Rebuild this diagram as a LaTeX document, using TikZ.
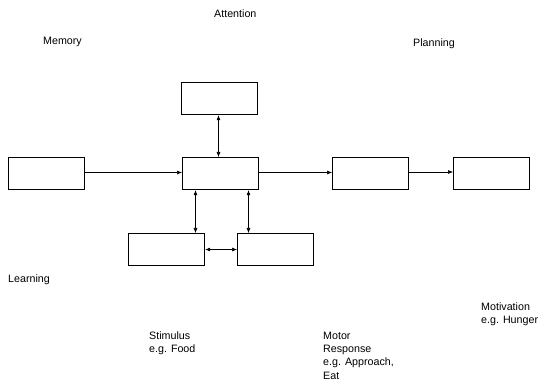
\documentclass[tikz,border=0pt]{standalone}
\usepackage{fontspec}
\setmainfont{Liberation Sans}
\usetikzlibrary{arrows.meta}
\begin{document}
\begin{tikzpicture}[x=1pt,y=-1pt,
  box/.style={draw,line width=1.2pt,minimum width=76pt,minimum height=32pt,inner sep=0pt,anchor=north west},
  conn/.style={line width=0.6pt,-{Latex[length=5pt,width=4pt]}},
  biconn/.style={line width=0.6pt,{Latex[length=5pt,width=4pt]}-{Latex[length=5pt,width=4pt]}},
  lbl/.style={font=\fontsize{10.7pt}{13.5pt}\selectfont,align=left,anchor=base west,inner sep=0pt}]
\useasboundingbox (0,0) rectangle (539,385);
\node[box] (top) at (181,82) {};
\node[box] (left) at (8,157) {};
\node[box] (center) at (182,157) {};
\node[box] (bl) at (128,233) {};
\node[box] (br) at (237,233) {};
\node[box] (r1) at (332,157) {};
\node[box] (r2) at (453,157) {};
\draw[conn] (left.east |- 0,172.5) -- (center.west |- 0,172.5);
\draw[conn] (center.east |- 0,172.5) -- (r1.west |- 0,172.5);
\draw[conn] (r1.east |- 0,172) -- (r2.west |- 0,172);
\draw[biconn] (top.south -| 218.5,0) -- (center.north -| 218.5,0);
\draw[biconn] (center.south -| 195.5,0) -- (bl.north -| 195.5,0);
\draw[biconn] (center.south -| 248.5,0) -- (br.north -| 248.5,0);
\draw[biconn] (bl.east |- 0,249.5) -- (br.west |- 0,249.5);
\node[lbl] (att) at (214,18) {Attention};
\node[lbl] (mem) at (43,44.5) {Memory};
\node[lbl] (plan) at (413,46.5) {Planning};
\node[lbl] (learn) at (8,282.5) {Learning};
\node[lbl] (stim) at (149,352.5) {Stimulus\\e.g. Food};
\node[lbl] (motor) at (323,379.5) {Motor\\Response\\e.g. Approach,\\Eat};
\node[lbl] (motiv) at (481,323.5) {Motivation\\e.g. Hunger};
\end{tikzpicture}
\end{document}
